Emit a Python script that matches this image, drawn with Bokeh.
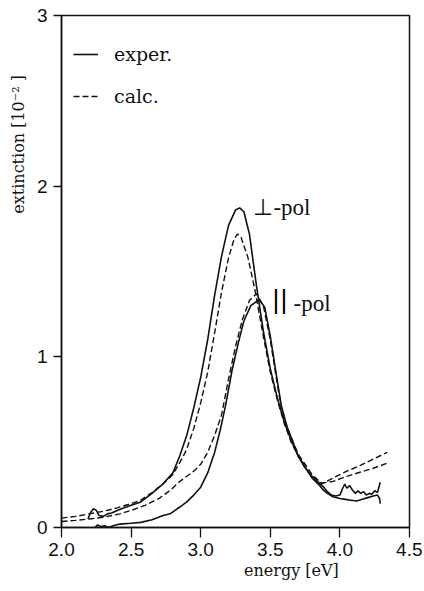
from bokeh.plotting import figure
from bokeh.models import FixedTicker, Legend, LegendItem, Label
from bokeh.embed import file_html
from bokeh.resources import INLINE

# ---------------- data ----------------
perp_exp_x = [2.19, 2.21, 2.23, 2.25, 2.27, 2.30, 2.33, 2.36, 2.40, 2.45, 2.50, 2.57, 2.65,
              2.73, 2.80, 2.85, 2.90, 2.95, 3.00, 3.05, 3.10, 3.15, 3.20, 3.25, 3.28, 3.31,
              3.35, 3.40, 3.45, 3.50, 3.55, 3.60, 3.65, 3.70, 3.75, 3.80, 3.85, 3.88, 3.91,
              3.94, 3.97, 4.00, 4.02, 4.035, 4.05, 4.07, 4.09, 4.11, 4.13, 4.15, 4.17, 4.19,
              4.21, 4.23, 4.25, 4.27, 4.285, 4.29]
perp_exp_y = [0.05, 0.09, 0.11, 0.10, 0.07, 0.065, 0.08, 0.085, 0.10, 0.115, 0.13, 0.15, 0.20,
              0.256, 0.32, 0.42, 0.54, 0.70, 0.88, 1.10, 1.36, 1.59, 1.77, 1.86, 1.873, 1.85,
              1.72, 1.42, 1.15, 0.93, 0.76, 0.62, 0.51, 0.42, 0.35, 0.30, 0.26, 0.24, 0.21,
              0.19, 0.185, 0.19, 0.23, 0.255, 0.23, 0.245, 0.22, 0.20, 0.215, 0.20, 0.21, 0.19,
              0.20, 0.195, 0.215, 0.205, 0.25, 0.265]

perp_calc_x = [2.00, 2.10, 2.20, 2.30, 2.40, 2.50, 2.57, 2.65, 2.73, 2.80, 2.87, 2.90, 2.95,
               3.00, 3.05, 3.10, 3.15, 3.20, 3.24, 3.265, 3.29, 3.34, 3.39, 3.45, 3.50, 3.55,
               3.60, 3.65, 3.70, 3.75, 3.80, 3.87, 3.95, 4.05, 4.15, 4.25, 4.34]
perp_calc_y = [0.055, 0.065, 0.08, 0.095, 0.115, 0.14, 0.16, 0.205, 0.256, 0.31, 0.41, 0.46, 0.58,
               0.73, 0.91, 1.14, 1.38, 1.58, 1.69, 1.72, 1.70, 1.58, 1.39, 1.12, 0.91, 0.75,
               0.61, 0.50, 0.42, 0.35, 0.30, 0.256, 0.29, 0.33, 0.365, 0.405, 0.44]

par_exp_x = [2.24, 2.26, 2.28, 2.31, 2.34, 2.37, 2.42, 2.50, 2.57, 2.65, 2.73, 2.78, 2.85,
             2.90, 2.95, 3.00, 3.05, 3.10, 3.14, 3.18, 3.225, 3.27, 3.31, 3.36, 3.42, 3.46,
             3.50, 3.55, 3.58, 3.62, 3.70, 3.80, 3.85, 3.88, 3.91, 3.95, 4.00, 4.04, 4.08,
             4.12, 4.16, 4.20, 4.24, 4.27, 4.285, 4.29]
par_exp_y = [0.0, 0.015, 0.005, 0.01, 0.0, 0.01, 0.02, 0.025, 0.03, 0.045, 0.07, 0.08, 0.12,
             0.15, 0.19, 0.236, 0.32, 0.44, 0.57, 0.72, 0.92, 1.08, 1.21, 1.30, 1.335, 1.29,
             1.12, 0.86, 0.71, 0.59, 0.42, 0.29, 0.25, 0.22, 0.20, 0.18, 0.17, 0.165, 0.16,
             0.155, 0.165, 0.175, 0.185, 0.19, 0.17, 0.14]

par_calc_x = [2.00, 2.10, 2.20, 2.30, 2.42, 2.50, 2.60, 2.70, 2.78, 2.85, 2.90, 2.95, 3.00,
              3.05, 3.10, 3.15, 3.20, 3.25, 3.30, 3.35, 3.40, 3.45, 3.50, 3.55, 3.58, 3.62,
              3.70, 3.80, 3.84, 3.87, 3.95, 4.05, 4.15, 4.25, 4.34]
par_calc_y = [0.035, 0.042, 0.05, 0.06, 0.08, 0.10, 0.13, 0.17, 0.217, 0.27, 0.30, 0.33, 0.37,
              0.44, 0.54, 0.66, 0.87, 1.06, 1.22, 1.33, 1.37, 1.30, 1.10, 0.84, 0.70, 0.59,
              0.43, 0.31, 0.28, 0.26, 0.27, 0.30, 0.325, 0.35, 0.377]

x_ticks = [2.0, 2.5, 3.0, 3.5, 4.0, 4.5]
x_tick_labels = ["2.0", "2.5", "3.0", "3.5", "4.0", "4.5"]
y_ticks = [0, 1, 2, 3]
y_tick_labels = ["0", "1", "2", "3"]

x_title = "energy [eV]"
y_title = "extinction [10\u207b\u00b2 ]"

# ---------------- figure ----------------
p = figure(width=422, height=590, x_range=(2.0, 4.5), y_range=(0, 3),
           output_backend="svg", toolbar_location=None,
           min_border_left=61, min_border_right=13, min_border_top=15, min_border_bottom=63)
p.background_fill_color = "white"
p.border_fill_color = "white"
p.xgrid.visible = False
p.ygrid.visible = False
p.outline_line_color = "#111111"
p.outline_line_width = 1.5

for ax, ticks, labels, out in ((p.xaxis[0], x_ticks, x_tick_labels, 10),
                               (p.yaxis[0], y_ticks, y_tick_labels, 8)):
    ax.ticker = FixedTicker(ticks=ticks)
    ax.major_label_overrides = {t: l for t, l in zip(ticks, labels)}
    ax.axis_line_color = "#111111"
    ax.axis_line_width = 1.5
    ax.major_tick_line_color = "#111111"
    ax.major_tick_line_width = 1.3
    ax.major_tick_in = 0
    ax.major_tick_out = out
    ax.minor_tick_line_color = None
    ax.major_label_text_font = "Liberation Sans"
    ax.major_label_text_font_size = "19px"
    ax.major_label_text_color = "#111111"
    ax.axis_label_text_font = "DejaVu Serif"
    ax.axis_label_text_font_size = "16px"
    ax.axis_label_text_font_style = "normal"
    ax.axis_label_text_color = "#111111"
p.xaxis[0].major_label_standoff = 5
p.yaxis[0].major_label_standoff = 6

# the original titles sit off-centre: pad them with no-break spaces
p.xaxis[0].axis_label = "\u00a0" * 22 + x_title
p.xaxis[0].axis_label_standoff = 2
p.yaxis[0].axis_label = "\u00a0" * 50 + y_title
p.yaxis[0].axis_label_standoff = 6

col = "#111111"
r_pe = p.line(perp_exp_x, perp_exp_y, line_color=col, line_width=1.6)
r_pc = p.line(perp_calc_x, perp_calc_y, line_color=col, line_width=1.4, line_dash="6 3")
r_qe = p.line(par_exp_x, par_exp_y, line_color=col, line_width=1.6)
r_qc = p.line(par_calc_x, par_calc_y, line_color=col, line_width=1.4, line_dash="6 3")

legend = Legend(items=[LegendItem(label="exper.", renderers=[r_pe]),
                       LegendItem(label="calc.", renderers=[r_pc])],
                location=(12, 420), padding=0, margin=0, spacing=20,
                glyph_width=25, glyph_height=20, label_height=20, label_standoff=16,
                label_text_font="DejaVu Serif", label_text_font_size="19px",
                label_text_color="#111111",
                border_line_color=None, background_fill_alpha=0)
p.add_layout(legend)

p.add_layout(Label(x=3.379, y=1.875, text="\u22a5-pol", text_font="Liberation Serif",
                   text_font_size="23px", text_color=col, text_baseline="alphabetic"))
for bx in (3.511, 3.568):
    p.add_layout(Label(x=bx, y=1.336, text="|", text_font="DejaVu Sans",
                       text_font_size="25px", text_color="black",
                       text_baseline="alphabetic"))
p.add_layout(Label(x=3.667, y=1.312, text="-pol", text_font="Liberation Serif",
                   text_font_size="23px", text_color=col, text_baseline="alphabetic"))

open("out.html", "w").write(file_html(p, INLINE))
